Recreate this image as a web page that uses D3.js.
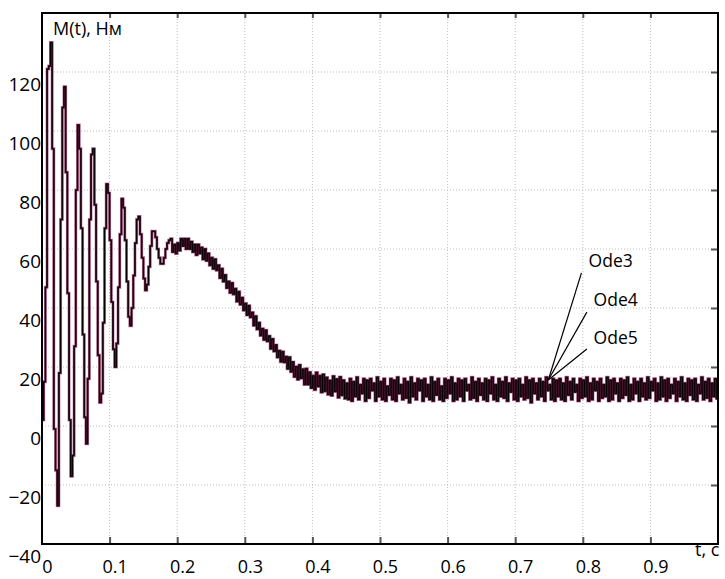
<!DOCTYPE html>
<html>
<head>
<meta charset="utf-8">
<script src="https://d3js.org/d3.v7.min.js"></script>
<title>M(t)</title>
<style>
  body { margin: 0; background: #fff; }
  text { font-family: "Open Sans", "DejaVu Sans", sans-serif; fill: #000; }
  .grid line { stroke: #bdbdbd; stroke-width: 1; stroke-dasharray: 1,2; }
  .ticks line { stroke: #555; stroke-width: 2; }
  .ticks path { display: none; }
  .lbl path, .lbl line { display: none; }
  .lbl text { font-size: 19px; }
  .xlbl text { font-size: 18px; }
</style>
</head>
<body>
<script>
// sample step of the solver output, s
var dt = 0.0025;

// start-up oscillations, t = 0 .. 0.19
var startup = [2, 15, 47, 121, 122, 130, 94, -1, -15, -27,
  18, 70, 108, 115, 86, 45, 2, -17, -10, 27,
  80, 102, 94, 67, 31, 3, -6, 16, 70, 92,
  94, 75, 49, 24, 8, 11, 35, 67, 82, 79,
  63, 42, 26, 20, 28, 47, 65, 77, 74, 63,
  49, 37, 34, 40, 51, 62, 70, 71, 65, 57,
  50, 46, 48, 54, 61, 66, 66, 64, 60, 57,
  55, 55, 57, 60, 62, 63];

// hump and decay, t = 0.19 .. 0.45
var decay = [63.5, 59, 61.5, 58.5, 62, 59.5, 63.5, 61, 63.5, 60,
  63.5, 60, 62.5, 59, 61.5, 58, 61.5, 58.5, 60.5, 56.5,
  60, 56, 58.5, 54.5, 57, 53.3, 56.5, 52.8, 54.5, 50.2,
  53.3, 49, 51.2, 46.8, 49, 45.2, 48.5, 44.7, 46.5, 42.2,
  45.5, 41.2, 43.5, 39.2, 41.5, 37.6, 40.8, 36.9, 38.5, 34.1,
  37.2, 32.8, 35, 30.7, 33, 29.2, 32.5, 28.7, 30.5, 26.2,
  29.5, 25.3, 27.5, 23.3, 25.5, 21.8, 25.2, 21.6, 23.5, 19.4,
  23.3, 18.4, 21.7, 16.7, 20.1, 15.8, 20.7, 16.2, 19.2, 14.1,
  19.4, 14.1, 18.2, 12.9, 17, 12.3, 18.1, 13.4, 17, 11.4,
  17.5, 11.8, 16.4, 10.7, 15.4, 10.3, 16.9, 11.7, 15.9, 9.7,
  16.6, 10.4, 15.5, 9.3, 14.5];

// steady state ripple, t = 0.45 .. 1
var steady = [9, 16, 8.5, 15, 10, 16.5, 9, 14, 11, 16, 8.5, 15.5, 9.5, 16, 12, 14.5, 8.5, 16.5, 10, 15,
  9, 16, 8.5, 13.5, 10.5, 16, 9, 15.5, 8.5, 16.5, 11, 14, 9, 16, 9.5, 15, 8, 16.5, 10, 14.5,
  9, 16, 12, 15.5, 8.5, 16, 10, 14, 9, 16.5, 8.5, 15, 10.5, 16, 9, 13.5, 8.5, 16, 9.5, 15.5,
  11, 16.5, 8.5, 14.5, 9, 16, 10, 15.5, 8.5, 16, 12, 14, 9, 16.5, 9.5, 15, 8.5, 16, 10.5, 14.5,
  9, 16, 8.5, 15.5, 11, 16.5, 9, 14, 8.5, 16, 10, 15, 9.5, 16.5, 8.5, 14.5, 11.5, 16, 9, 15.5,
  8.5, 16, 10, 14, 9, 16.5, 9.5, 15.5, 8, 16, 11, 14.5, 9, 16, 10, 15, 8.5, 16.5, 12, 14,
  9, 16, 8.5, 15.5, 10, 16, 9, 14.5, 8.5, 16.5, 10.5, 15, 9, 16, 11.5, 14, 8.5, 16, 9.5, 15.5,
  10, 16.5, 8.5, 14.5, 9, 16, 12, 15, 8.5, 16, 9.5, 14, 10, 16.5, 8.5, 15.5, 9, 16, 11, 14.5,
  8.5, 16, 9.5, 15.5, 10.5, 16.5, 8.5, 14, 9, 16, 11, 15, 8.5, 16, 10, 14.5, 9, 16.5, 9.5, 15,
  12, 16, 8.5, 14.5, 9, 16.5, 10, 15.5, 8.5, 16, 9.5, 14, 11, 16, 8.5, 15, 10, 16.5, 9, 14.5,
  8.5, 16, 10.5, 15.5, 9, 16, 8.5, 14, 11, 16.5, 9, 15, 9.5, 16, 8.5, 14.5, 10, 16, 9];

// the three solvers give the same curve to within a pixel
var ode3 = startup.concat(decay, steady);
var ode4 = ode3;
var ode5 = ode3;

var seriesNames = ["Ode5", "Ode4", "Ode3"];
var seriesColors = ["#c48cab", "#5e1a3c", "#000"];
var seriesWidths = [3, 2, 1];
var seriesValues = [ode5, ode4, ode3];

var xTicks = [0, 0.1, 0.2, 0.3, 0.4, 0.5, 0.6, 0.7, 0.8, 0.9];
var yTicks = [-40, -20, 0, 20, 40, 60, 80, 100, 120];

// annotation: label anchor, leader end, text position (data units)
var noteNames = ["Ode3", "Ode4", "Ode5"];
var noteAnchor = [0.749, 15.6];
var noteEndT = [0.798, 0.806, 0.806];
var noteEndV = [51.9, 38.6, 26.1];
var noteTextT = [0.8086, 0.816, 0.816];
var noteTextV = [53.9, 40.7, 27.8];

var width = 725, height = 579;
var x = d3.scaleLinear().domain([0, 1]).range([42, 718]);
var y = d3.scaleLinear().domain([-40, 140]).range([544, 13]);

var svg = d3.select("body").append("svg")
    .attr("width", width)
    .attr("height", height);

// dotted grid
var grid = svg.append("g").attr("class", "grid");
grid.selectAll(".gx").data(xTicks.slice(1)).enter().append("line")
    .attr("x1", function (d) { return x(d); }).attr("x2", function (d) { return x(d); })
    .attr("y1", y(140)).attr("y2", y(-40));
grid.selectAll(".gy").data(yTicks.slice(1)).enter().append("line")
    .attr("x1", x(0)).attr("x2", x(1))
    .attr("y1", function (d) { return y(d); }).attr("y2", function (d) { return y(d); });

// inward ticks
svg.append("g").attr("class", "ticks")
    .attr("transform", "translate(0," + y(-40) + ")")
    .call(d3.axisBottom(x).tickValues(xTicks.slice(1)).tickSize(-7).tickFormat(""));
svg.append("g").attr("class", "ticks")
    .attr("transform", "translate(0," + y(140) + ")")
    .call(d3.axisTop(x).tickValues(xTicks.slice(1)).tickSize(-5).tickFormat(""));
svg.append("g").attr("class", "ticks")
    .attr("transform", "translate(" + x(1) + ",0)")
    .call(d3.axisRight(y).tickValues(yTicks.slice(1)).tickSize(-7).tickFormat(""));

// tick labels
var xLab = svg.append("g").attr("class", "lbl xlbl")
    .attr("transform", "translate(0," + y(-40) + ")")
    .call(d3.axisBottom(x).tickValues(xTicks).tickSize(0).tickPadding(16)
        .tickFormat(function (d) { return d === 0 ? "0" : d3.format(".1f")(d); }));
xLab.selectAll("text").attr("x", 5);

var yLab = svg.append("g").attr("class", "lbl")
    .attr("transform", "translate(" + x(0) + ",0)")
    .call(d3.axisLeft(y).tickValues(yTicks).tickSize(0).tickPadding(1));
yLab.selectAll("text").attr("dy", "0.95em");

// curves
var line = d3.line()
    .x(function (d, i) { return x(i * dt); })
    .y(function (d) { return y(d); })
    .curve(d3.curveStepAfter);

svg.append("g").selectAll("path").data(seriesValues).enter().append("path")
    .attr("d", function (d) { return line(d); })
    .attr("fill", "none")
    .attr("stroke", function (d, i) { return seriesColors[i]; })
    .attr("stroke-width", function (d, i) { return seriesWidths[i]; })
    .attr("data-name", function (d, i) { return seriesNames[i]; });

// frame
svg.append("rect")
    .attr("x", x(0)).attr("y", y(140))
    .attr("width", x(1) - x(0)).attr("height", y(-40) - y(140))
    .attr("fill", "none").attr("stroke", "#000").attr("stroke-width", 2);

// leaders and labels
var notes = svg.append("g");
noteNames.forEach(function (n, i) {
  notes.append("line")
      .attr("x1", x(noteAnchor[0])).attr("y1", y(noteAnchor[1]))
      .attr("x2", x(noteEndT[i])).attr("y2", y(noteEndV[i]))
      .attr("stroke", "#000").attr("stroke-width", 1.2);
  notes.append("text")
      .attr("x", x(noteTextT[i])).attr("y", y(noteTextV[i]))
      .style("font-size", "17.5px")
      .text(n);
});

// axis titles
svg.append("text").attr("x", 53).attr("y", 35).style("font-size", "18px").text("M(t), Нм");
svg.append("text").attr("x", 695).attr("y", 556).style("font-size", "18px").text("t, c");
</script>
</body>
</html>
